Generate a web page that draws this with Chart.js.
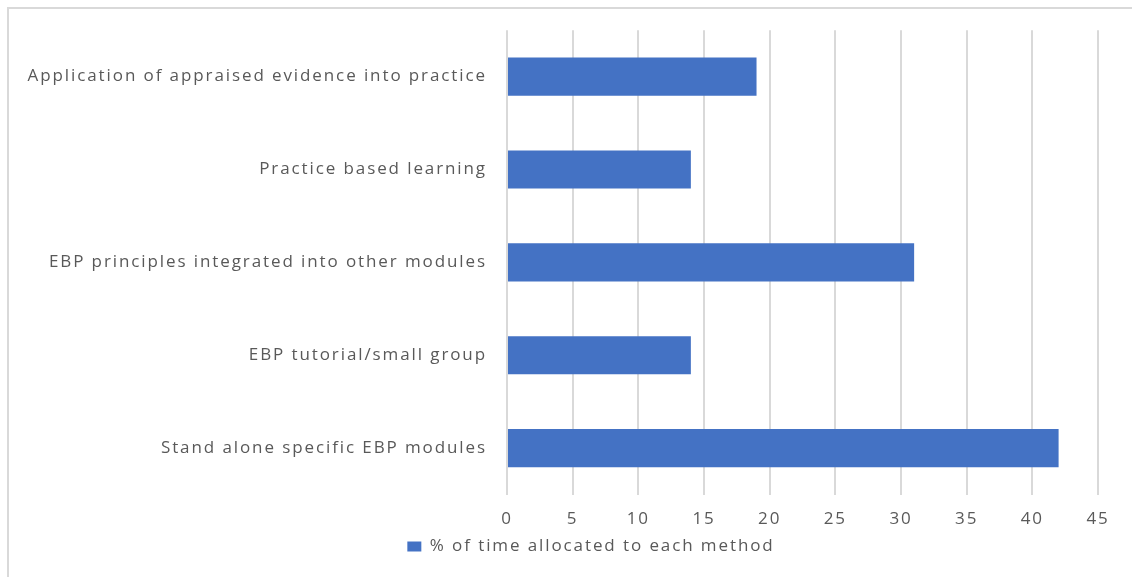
<!DOCTYPE html>
<html>
<head>
<meta charset="utf-8">
<script src="https://cdn.jsdelivr.net/npm/chart.js@4.4.1/dist/chart.umd.min.js"></script>
<style>
  html, body { margin: 0; padding: 0; background: #ffffff; overflow: hidden; }
  #frame { position: absolute; left: 7px; top: 7px; width: 1200px; height: 620px; border: 2px solid #d9d9d9; box-sizing: border-box; }
  #wrap { position: absolute; left: 0; top: 0; width: 1132px; height: 577px; }
</style>
</head>
<body>
<div id="frame"></div>
<div id="wrap"><canvas id="c" width="1132" height="577"></canvas></div>
<script>
const categories = [
  "Application of appraised evidence into practice",
  "Practice based learning",
  "EBP principles integrated into other modules",
  "EBP tutorial/small group",
  "Stand alone specific EBP modules"
];
const seriesName = "% of time allocated to each method";
const values = [19, 14, 31, 14, 42];
const xTicks = [0, 5, 10, 15, 20, 25, 30, 35, 40, 45];

const FONT = "'Open Sans', sans-serif";
const TXT = "#595959";
const SPACING = "1.9px";

const letterSpacingPlugin = {
  id: "letterSpacing",
  beforeInit(c) { c.ctx.letterSpacing = SPACING; },
  beforeLayout(c) { c.ctx.letterSpacing = SPACING; },
  afterLayout(c) { if (c.legend) { c.legend.left = 84; } },
  beforeDraw(c) { c.ctx.letterSpacing = SPACING; }
};

new Chart(document.getElementById("c"), {
  type: "bar",
  plugins: [letterSpacingPlugin],
  data: {
    labels: categories,
    datasets: [{
      label: seriesName,
      data: values,
      backgroundColor: "#4472c4",
      borderWidth: 0,
      categoryPercentage: 1.0,
      barPercentage: 0.41
    }]
  },
  options: {
    indexAxis: "y",
    responsive: false,
    animation: false,
    devicePixelRatio: 1,
    layout: { padding: { left: 0, right: 34, top: 23, bottom: 12 } },
    plugins: {
      legend: {
        position: "bottom",
        labels: {
          color: TXT,
          font: { family: FONT, size: 17 },
          boxWidth: 14,
          boxHeight: 10,
          padding: 0
        }
      },
      tooltip: { enabled: false }
    },
    scales: {
      x: {
        min: 0,
        max: 45,
        afterBuildTicks: (s) => { s.ticks = xTicks.map(v => ({ value: v })); },
        afterFit: (s) => { s.height -= 5; },
        grid: { color: "#d9d9d9", lineWidth: 2, drawTicks: false },
        border: { display: false },
        ticks: { color: TXT, font: { family: FONT, size: 17 }, padding: 14 }
      },
      y: {
        afterFit: (s) => { s.width = 507; },
        grid: { display: false, drawTicks: false },
        border: { display: false },
        ticks: { color: TXT, font: { family: FONT, size: 17 }, padding: 20 }
      }
    }
  }
});
</script>
</body>
</html>
